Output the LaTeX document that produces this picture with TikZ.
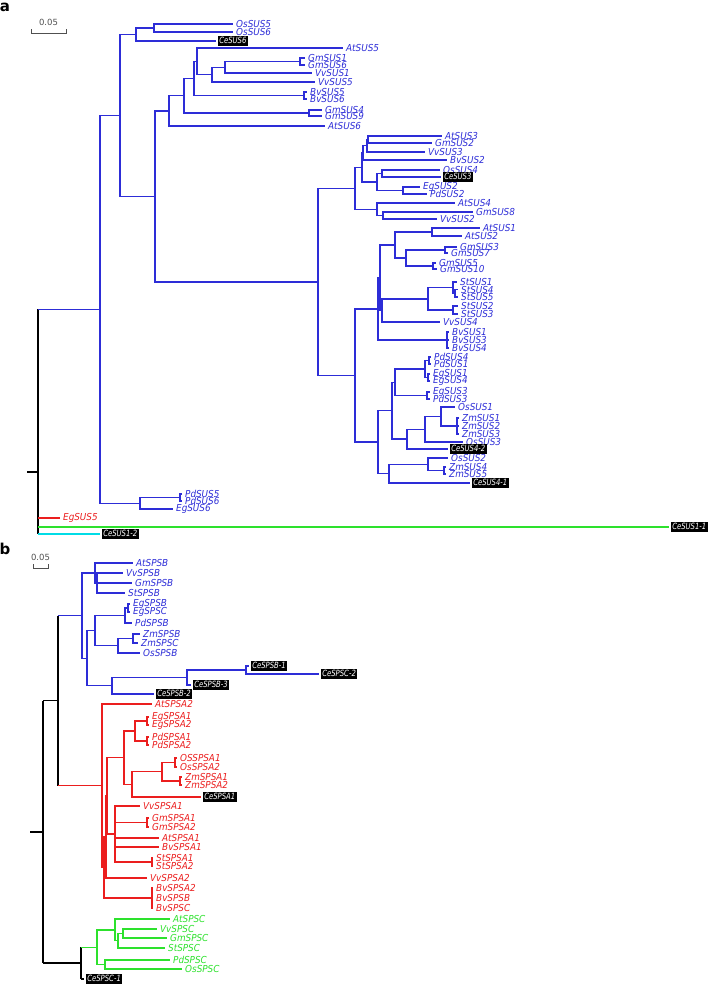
\documentclass[tikz,border=0pt]{standalone}
\usepackage{fontspec}
\newfontfamily\lblfont[FakeStretch=0.92]{DejaVu Sans Oblique}
\newfontfamily\boxfont[FakeStretch=0.8]{DejaVu Sans Oblique}
\newfontfamily\kopffont{DejaVu Sans}
\definecolor{blau}{RGB}{45,45,215}
\definecolor{rot}{RGB}{235,30,30}
\definecolor{gruen}{RGB}{45,225,45}
\definecolor{tuerkis}{RGB}{0,220,230}
\definecolor{skalagrau}{RGB}{80,80,80}
\tikzset{
  ast/.style={line width=1.4pt},
  blatt/.style={anchor=west, inner xsep=3pt, inner ysep=0.5pt, font=\lblfont\fontsize{9.6}{10}\selectfont},
  kasten/.style={anchor=west, fill=black, text=white, inner xsep=1.3pt, inner ysep=1pt, outer xsep=2pt,
    text height=6.6pt, text depth=1.6pt, font=\boxfont\fontsize{8.6}{9}\selectfont},
  kopf/.style={font=\kopffont\bfseries\fontsize{15}{15}\selectfont, inner sep=0pt},
  skala/.style={font=\kopffont\fontsize{8.5}{9}\selectfont, text=skalagrau, inner sep=0pt}
}
\begin{document}
\begin{tikzpicture}[x=1pt, y=-1pt]
  \useasboundingbox (0,0) rectangle (709,986);
  % Beschriftung
  \node[kopf] (labA) at (5,7) {a};
  \node[kopf] (labB) at (5,549) {b};
  % Skala a
  \coordinate (sa1) at (31,33); \coordinate (sa2) at (66,33);
  \draw[line width=1pt, skalagrau] ([yshift=4pt]sa1) -- (sa1) -- (sa2) -- ([yshift=4pt]sa2);
  \node[skala] (sa) at (48.5,22) {0.05};
  % Skala b
  \coordinate (sb1) at (33,568); \coordinate (sb2) at (48,568);
  \draw[line width=1pt, skalagrau] ([yshift=4pt]sb1) -- (sb1) -- (sb2) -- ([yshift=4pt]sb2);
  \node[skala] (sb) at (40.5,557) {0.05};

  % Baum a: innere Knoten
  \foreach \n/\x/\y in {nB/100/309.35, nA/120/115.45, nC/136/34.5, nC1/154/28, nD/155/196.4,
    nE/169/110.9, nE1/184/95.7, nE3/309/113, nE2/194/78.4, nE5/304/95.5, nE4/197/61.3,
    nE6/212/74.6, nE7/225/67.25, nE8/300/61.5, nF/318/281.9, np8/355/188.3, np4/362/167.4,
    np3/363/152.9, np2/367/145.75, np1/368/139.5, np5/377/182, np6/382/173.5, np7/403/190.5,
    np9/377/209.25, np10/383/215.5, nq1/355/375.5, nt3/378/308.85, nt2/380/277.7, nr2/395/245,
    nr3/432/232, nr1/406/258, nr4/445/250, nr5/433/266, nt1/382/310.4, nt4/428/298.8,
    ns1/453/287.6, ns1b/455/293.25, ns2/453/310, nbv/447/340, nu0/378/442.15, nu1/392/410.7,
    nu2/395/382.25, nu3/425/369, nu9/429/360.5, nu10/428/377.5, nu8/427/395.5, nu4/407/439.1,
    nu5/425/429.25, nu6/441/416.5, nu7/457/426, nv1/389/473.6, nv2/428/464.25, nv3/444/470.5,
    nw1/140/503.25, nw2/180/497.5}
    \coordinate (\n) at (\x,\y);
  \coordinate (wa) at (38,472);
  \coordinate (wa0) at (27,472);

  % Baum a: Blaetter
  \foreach \n/\x/\y in {OsSUS5/233/24, OsSUS6/233/32, AtSUS5/343/48, GmSUS1/305/58, GmSUS6/305/65,
    VvSUS1/312/73, VvSUS5/315/82, BvSUS5/307/92, BvSUS6/307/99, GmSUS4/322/110, GmSUS9/322/116,
    AtSUS6/325/126, AtSUS3/442/136, GmSUS2/432/143, VvSUS3/425/152, BvSUS2/447/160, OsSUS4/440/170,
    EgSUS2/420/187, PdSUS2/427/194, AtSUS4/455/203, GmSUS8/473/212, VvSUS2/437/219, AtSUS1/480/228,
    AtSUS2/462/236, GmSUS3/457/247, GmSUS7/448/253, GmSUS5/436/263, GmSUS10/437/269, StSUS1/457/282,
    StSUS4/458/289.5, StSUS5/458/297, StSUS2/458/306, StSUS3/458/314, VvSUS4/440/322, BvSUS1/449/332,
    BvSUS3/449/340, BvSUS4/449/348, PdSUS4/431/357, PdSUS1/431/364, EgSUS1/430/374, EgSUS4/430/381,
    EgSUS3/430/392, PdSUS3/430/399, OsSUS1/455/407, ZmSUS1/459/418, ZmSUS2/459/426, ZmSUS3/459/434,
    OsSUS3/463/442, OsSUS2/448/458, ZmSUS4/446/467, ZmSUS5/446/474, PdSUS5/182/494, PdSUS6/182/501,
    EgSUS6/173/509}
    \node[blatt, text=blau] (\n) at (\x,\y) {\n};
  \node[blatt, text=rot] (EgSUS5) at (60,518) {EgSUS5};
  \foreach \n/\x/\y in {CeSUS6/216/41, CeSUS3/441/177, CeSUS4-2/448/449, CeSUS4-1/470/483,
    CeSUS1-1/669/527, CeSUS1-2/100/534}
    \node[kasten] (\n) at (\x,\y) {\n};

  % Baum a: Aeste
  \foreach \p/\c in {nB/nA, nB/nw1, nA/nC, nA/nD, nC/nC1, nC/CeSUS6, nC1/OsSUS5, nC1/OsSUS6,
    nD/nE, nD/nF, nE/nE1, nE/AtSUS6, nE1/nE2, nE1/nE3, nE3/GmSUS4, nE3/GmSUS9, nE2/nE4, nE2/nE5,
    nE5/BvSUS5, nE5/BvSUS6, nE4/AtSUS5, nE4/nE6, nE6/nE7, nE6/VvSUS5, nE7/nE8, nE7/VvSUS1,
    nE8/GmSUS1, nE8/GmSUS6, nF/np8, nF/nq1, np8/np4, np8/np9, np4/np3, np4/np5, np3/np2,
    np3/BvSUS2, np2/np1, np2/VvSUS3, np1/AtSUS3, np1/GmSUS2, np5/np6, np5/np7, np6/OsSUS4,
    np6/CeSUS3, np7/EgSUS2, np7/PdSUS2, np9/AtSUS4, np9/np10, np10/GmSUS8, np10/VvSUS2,
    nq1/nt3, nq1/nu0, nt3/nt2, nt3/nbv, nt2/nr2, nt2/nt1, nr2/nr3, nr2/nr1, nr3/AtSUS1, nr3/AtSUS2,
    nr1/nr4, nr1/nr5, nr4/GmSUS3, nr4/GmSUS7, nr5/GmSUS5, nr5/GmSUS10, nt1/nt4, nt1/VvSUS4,
    nt4/ns1, nt4/ns2, ns1/StSUS1, ns1/ns1b, ns1b/StSUS4, ns1b/StSUS5, ns2/StSUS2, ns2/StSUS3,
    nbv/BvSUS1, nbv/BvSUS3, nbv/BvSUS4, nu0/nu1, nu0/nv1, nu1/nu2, nu1/nu4, nu2/nu3, nu2/nu8,
    nu3/nu9, nu3/nu10, nu9/PdSUS4, nu9/PdSUS1, nu10/EgSUS1, nu10/EgSUS4, nu8/EgSUS3, nu8/PdSUS3,
    nu4/nu5, nu4/CeSUS4-2, nu5/nu6, nu5/OsSUS3, nu6/OsSUS1, nu6/nu7, nu7/ZmSUS1, nu7/ZmSUS2,
    nu7/ZmSUS3, nv1/nv2, nv1/CeSUS4-1, nv2/OsSUS2, nv2/nv3, nv3/ZmSUS4, nv3/ZmSUS5, nw1/nw2,
    nw1/EgSUS6, nw2/PdSUS5, nw2/PdSUS6}
    \draw[ast, blau] (\p) |- (\c);
  % Wurzel a
  \draw[ast] (wa0) -- (wa);
  \draw[ast] (wa |- nB) -- (wa |- CeSUS1-2);
  \draw[ast, blau] (wa |- nB) -- (nB);
  \draw[ast, rot] (wa |- EgSUS5) -- (EgSUS5);
  \draw[ast, gruen] (wa |- CeSUS1-1) -- (CeSUS1-1);
  \draw[ast, tuerkis] (wa |- CeSUS1-2) -- (CeSUS1-2);

  % Baum b: innere Knoten
  \foreach \n/\x/\y in {mX/58/700.65, mbl/82/615.6, mb1/95/573, mb2/97/583, mbm/87/658.2,
    mbn/95/630.6, mbo/125/615.5, mbp/128/608, mbq/118/645.75, mbr/133/638.5, mbs/112/685.75,
    mbt/187/677.5, mbu/246/670, mrd/102/785.7, mrdd/104/867.45, mre/106/836.9, mrf/107/795.85,
    mr2/124/757.7, mr7/135/731, mr8/147/721, mr9/147/741, mr3/132/784.4, mr4/162/771.75,
    mr5/175/762.5, mr6/180/781, mg1/115/834, mgm/147/822.5, mgs/152/862, mbvt/152/898,
    mG/81/963.1, mgr/97/947.2, mgA/115/929.9, mgC/118/940.75, mgD/123/933.5, mgB/105/964.5}
    \coordinate (\n) at (\x,\y);
  \coordinate (wb) at (43,831.9);
  \coordinate (wb0) at (30,831.9);

  % Baum b: Blaetter
  \foreach \n/\x/\y in {AtSPSB/133/563, VvSPSB/123/573, GmSPSB/132/583, StSPSB/125/593,
    EgSPSB/130/604, EgSPSC/130/612, PdSPSB/132/623, ZmSPSB/140/634, ZmSPSC/138/643, OsSPSB/140/653}
    \node[blatt, text=blau] (\n) at (\x,\y) {\n};
  \foreach \n/\x/\y in {AtSPSA2/152/704, EgSPSA1/149/717, EgSPSA2/149/725, PdSPSA1/149/737,
    PdSPSA2/149/745, OSSPSA1/177/758, OsSPSA2/177/767, ZmSPSA1/182/777, ZmSPSA2/182/785,
    VvSPSA1/140/806, GmSPSA1/149/818, GmSPSA2/149/827, AtSPSA1/159/838, BvSPSA1/159/847,
    StSPSA1/153/858, StSPSA2/153/866, VvSPSA2/147/878, BvSPSA2/153/888, BvSPSB/153/898, BvSPSC/153/908}
    \node[blatt, text=rot] (\n) at (\x,\y) {\n};
  \foreach \n/\x/\y in {AtSPSC/170/919, VvSPSC/157/929, GmSPSC/167/938, StSPSC/165/948,
    PdSPSC/170/960, OsSPSC/182/969}
    \node[blatt, text=gruen] (\n) at (\x,\y) {\n};
  \foreach \n/\x/\y in {CeSPSB-1/249/666, CeSPSC-2/319/674, CeSPSB-3/191/685, CeSPSB-2/154/694,
    CeSPSA1/201/797, CeSPSC-1/84/979}
    \node[kasten] (\n) at (\x,\y) {\n};

  % Baum b: Aeste
  \foreach \p/\c in {mbl/mb1, mbl/mbm, mb1/AtSPSB, mb1/mb2, mb2/VvSPSB, mb2/GmSPSB, mb2/StSPSB,
    mbm/mbn, mbm/mbs, mbn/mbo, mbn/mbq, mbo/mbp, mbo/PdSPSB, mbp/EgSPSB, mbp/EgSPSC, mbq/mbr,
    mbq/OsSPSB, mbr/ZmSPSB, mbr/ZmSPSC, mbs/mbt, mbs/CeSPSB-2, mbt/mbu, mbt/CeSPSB-3,
    mbu/CeSPSB-1, mbu/CeSPSC-2}
    \draw[ast, blau] (\p) |- (\c);
  \foreach \p/\c in {mrd/AtSPSA2, mrd/mrdd, mrdd/mre, mrdd/mbvt, mre/mrf, mre/VvSPSA2, mrf/mr2,
    mrf/mg1, mr2/mr7, mr2/mr3, mr7/mr8, mr7/mr9, mr8/EgSPSA1, mr8/EgSPSA2, mr9/PdSPSA1,
    mr9/PdSPSA2, mr3/mr4, mr3/CeSPSA1, mr4/mr5, mr4/mr6, mr5/OSSPSA1, mr5/OsSPSA2, mr6/ZmSPSA1,
    mr6/ZmSPSA2, mg1/VvSPSA1, mg1/mgm, mg1/AtSPSA1, mg1/BvSPSA1, mg1/mgs, mgm/GmSPSA1,
    mgm/GmSPSA2, mgs/StSPSA1, mgs/StSPSA2, mbvt/BvSPSA2, mbvt/BvSPSB, mbvt/BvSPSC}
    \draw[ast, rot] (\p) |- (\c);
  \foreach \p/\c in {mgr/mgA, mgr/mgB, mgA/AtSPSC, mgA/mgC, mgC/mgD, mgC/StSPSC, mgD/VvSPSC,
    mgD/GmSPSC, mgB/PdSPSC, mgB/OsSPSC}
    \draw[ast, gruen] (\p) |- (\c);
  % Wurzel b
  \draw[ast] (wb0) -- (wb);
  \draw[ast] (wb |- mX) -- (wb |- mG);
  \draw[ast] (wb |- mX) -- (mX);
  \draw[ast] (wb |- mG) -- (mG);
  \draw[ast] (mX |- mbl) -- (mX |- mrd);
  \draw[ast, blau] (mX |- mbl) -- (mbl);
  \draw[ast, rot] (mX |- mrd) -- (mrd);
  \draw[ast] (mG |- mgr) -- (mG |- CeSPSC-1);
  \draw[ast, gruen] (mG |- mgr) -- (mgr);
  \draw[ast] (mG |- CeSPSC-1) -- (CeSPSC-1);
\end{tikzpicture}
\end{document}
